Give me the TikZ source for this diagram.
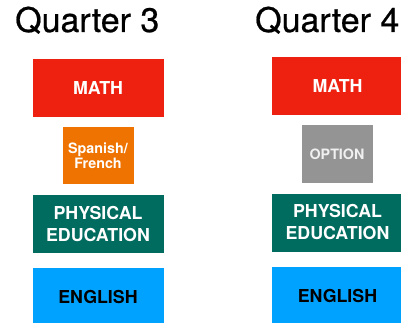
\documentclass[tikz,border=0pt]{standalone}
\usepackage{fontspec}
\setmainfont{TeX Gyre Heros}
\newfontfamily\headfont[FakeBold=0.6]{TeX Gyre Heros}
\usepackage{tikz}
\usetikzlibrary{positioning}
\definecolor{mathred}{HTML}{EE2111}
\definecolor{langorange}{HTML}{EF7300}
\definecolor{optgray}{HTML}{949494}
\definecolor{peteal}{HTML}{006B5F}
\definecolor{engblue}{HTML}{00A2FF}
\tikzset{
  title/.style = {anchor=base west, inner sep=0pt,
                  font=\headfont\fontsize{34}{34}\selectfont},
  block/.style = {rectangle, minimum width=131pt, minimum height=58pt,
                  inner sep=0pt, align=center, text=white,
                  font=\bfseries\fontsize{17.8}{22}\selectfont},
  small/.style = {block, minimum width=71pt, minimum height=57pt,
                  font=\bfseries\fontsize{14.3}{15}\selectfont}
}

\begin{document}
\begin{tikzpicture}[x=1pt, y=-1pt]
\useasboundingbox (0,0) rectangle (401,323);

% Quarter 3
\node (q3)      [title] at (15,32)   {Quarter 3};
\node (math3)   [block, fill=mathred] at (98,88) {MATH};
\node (lang3)   [small, fill=langorange] at (98,155.5) {Spanish/\\French};
\node (pe3)     [block, fill=peteal] at (98,224) {PHYSICAL\\EDUCATION};
\node (eng3)    [block, fill=engblue, text=black] at (98,297) {ENGLISH};

% Quarter 4
\node (q4)      [title] at (255,32)  {Quarter 4};
\node (math4)   [block, fill=mathred] at (337.5,86.5) {MATH};
\node (opt4)    [small, fill=optgray, text=white!94!black] at (337,154) {OPTION};
\node (pe4)     [block, fill=peteal] at (337.5,222.5) {PHYSICAL\\EDUCATION};
\node (eng4)    [block, fill=engblue, text=black] at (337.5,296) {ENGLISH};

\end{tikzpicture}
\end{document}
